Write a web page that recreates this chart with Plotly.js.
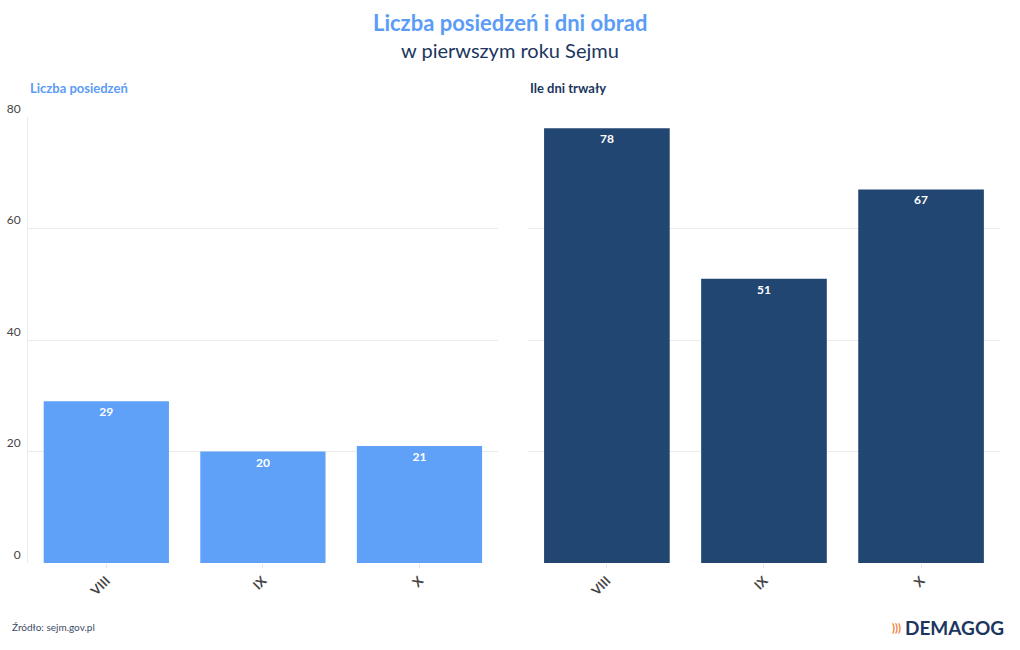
<!DOCTYPE html>
<html><head><meta charset="utf-8">
<script src="https://cdn.plot.ly/plotly-3.0.1.min.js"></script>
<style>html,body{margin:0;padding:0;background:#fff}</style>
</head><body>
<div id="chart" style="width:1020px;height:650px"></div>
<script>
const categories = ["VIII", "IX", "X"];
const posiedzenia = [29, 20, 21];
const dniObrad = [78, 51, 67];
const yTicks = [0, 20, 40, 60, 80];

const FONT = "Lato, 'Open Sans', sans-serif";
const traces = [
  {type:'bar', x:categories, y:posiedzenia, xaxis:'x', yaxis:'y',
   marker:{color:'#5fa1f8'}, text:posiedzenia.map(String), textposition:'inside',
   insidetextanchor:'end', textfont:{color:'#fff', size:12, family:FONT, weight:700},
   hoverinfo:'none', cliponaxis:false},
  {type:'bar', x:categories, y:dniObrad, xaxis:'x2', yaxis:'y2',
   marker:{color:'#224672'}, text:dniObrad.map(String), textposition:'inside',
   insidetextanchor:'end', textfont:{color:'#fff', size:12, family:FONT, weight:700},
   hoverinfo:'none', cliponaxis:false}
];
const xCommon = {type:'category', tickangle:-45, showgrid:false, zeroline:false,
  showline:false, ticks:'outside', ticklen:4, tickcolor:'#e6e6e6',
  tickfont:{family:FONT, size:13, color:'#444', weight:700}, fixedrange:true};
const yCommon = {range:[0,80], tickvals:yTicks, showgrid:true, gridcolor:'#ebebeb',
  zeroline:false, fixedrange:true};
const layout = {
  width:1020, height:650, margin:{l:0,r:0,t:0,b:0},
  paper_bgcolor:'#fff', plot_bgcolor:'#fff', showlegend:false, bargap:0.2,
  font:{family:FONT},
  xaxis:Object.assign({}, xCommon, {domain:[0.0275,0.488], anchor:'y'}),
  xaxis2:Object.assign({}, xCommon, {domain:[0.518,0.980], anchor:'y2'}),
  yaxis:Object.assign({}, yCommon, {domain:[0.1338,0.82], anchor:'x',
    ticklabelposition:'outside top', tickfont:{family:FONT,size:12,color:'#444'},
    showline:true, linecolor:'#ebebeb', ticks:'', ticklabelstandoff:4}),
  yaxis2:Object.assign({}, yCommon, {domain:[0.1338,0.82], anchor:'x2', showticklabels:false, showline:false}),
  annotations:[
    {text:'<b>Liczba posiedzeń i dni obrad</b>', x:0.5, y:22, xref:'paper', yref:'paper',
     showarrow:false, font:{family:FONT, size:22, color:'#5b9cf6'}},
    {text:'w pierwszym roku Sejmu', x:0.5, y:0, xref:'paper', yref:'paper', showarrow:false,
     font:{family:FONT, size:20, color:'#1c3660'}},
    {text:'<b>Liczba posiedzeń</b>', x:28, y:88, showarrow:false, xanchor:'left',
     font:{family:FONT, size:13, color:'#5b9cf6'}},
    {text:'<b>Ile dni trwały</b>', x:528, y:88, showarrow:false, xanchor:'left',
     font:{family:FONT, size:13, color:'#1c3660'}},
    {text:'Źródło: sejm.gov.pl', x:10, y:627, showarrow:false, xanchor:'left',
     font:{family:FONT, size:10, color:'#3a4a66'}},
    {text:'<b>DEMAGOG</b>', x:1006, y:627, showarrow:false, xanchor:'right',
     font:{family:FONT, size:19, color:'#1c3660'}},
    {text:'<b>)))</b>', x:903, y:627, showarrow:false, xanchor:'right',
     font:{family:FONT, size:11, color:'#f07a3a'}}
  ]
};
// convert pixel-positioned annotations to paper coords
layout.annotations.forEach((a,i)=>{
  if(i===0){a.x=0.5; a.y=1-22/650; a.yanchor='middle'; return;}
  if(i===1){a.x=0.5; a.y=1-50/650; a.yanchor='middle'; return;}
  a.xref='paper'; a.yref='paper'; a.x=a.x/1020; a.y=1-a.y/650; a.yanchor='middle';
});
Plotly.newPlot('chart', traces, layout, {displayModeBar:false, staticPlot:true});
</script>
</body></html>
